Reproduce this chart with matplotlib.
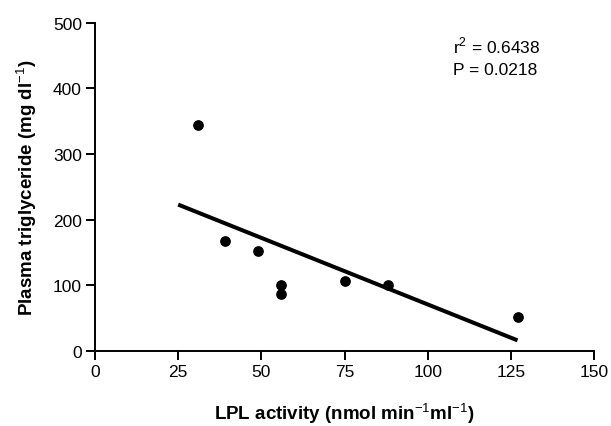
import matplotlib
matplotlib.use("Agg")
import matplotlib.pyplot as plt

# data
lpl_activity = [31, 39, 49, 56, 56, 75, 88, 127]
triglyceride = [344, 168, 152, 100, 87, 107, 101, 52]
fit_x = [25, 127]
fit_y = [223, 16]
x_ticks = [0, 25, 50, 75, 100, 125, 150]
y_ticks = [0, 100, 200, 300, 400, 500]
stats_text = "r$^2$ = 0.6438\nP = 0.0218"

plt.rcParams['font.family'] = ['Liberation Sans', 'DejaVu Sans']
plt.rcParams['mathtext.fontset'] = 'custom'
plt.rcParams['mathtext.rm'] = 'Liberation Sans'
plt.rcParams['mathtext.bf'] = 'Liberation Sans:bold'

fig = plt.figure(figsize=(6.11, 4.27), dpi=100)
ax = fig.add_axes([0.1555, 0.176, 0.8167, 0.768])

ax.scatter(lpl_activity, triglyceride, s=45, color='black', zorder=3)
ax.plot(fit_x, fit_y, color='black', linewidth=2.9, solid_capstyle='butt')

ax.set_xlim(0, 150)
ax.set_ylim(0, 500)
ax.set_xticks(x_ticks)
ax.set_yticks(y_ticks)
ax.spines['top'].set_visible(False)
ax.spines['right'].set_visible(False)
ax.spines['left'].set_linewidth(1.4)
ax.spines['bottom'].set_linewidth(1.4)
ax.tick_params(direction='out', length=6.5, width=1.4, labelsize=12.5, pad=3)

ax.set_xlabel("LPL activity (nmol min$^{-1}$ml$^{-1}$)", fontsize=13.5,
              fontweight='bold', labelpad=15)
ax.set_ylabel("Plasma triglyceride (mg dl$^{-1}$)", fontsize=13.5,
              fontweight='bold', labelpad=10)

ax.text(107.5, 482, stats_text, fontsize=12.5, va='top', ha='left',
        linespacing=1.55)

fig.savefig("out.png", dpi=100)
